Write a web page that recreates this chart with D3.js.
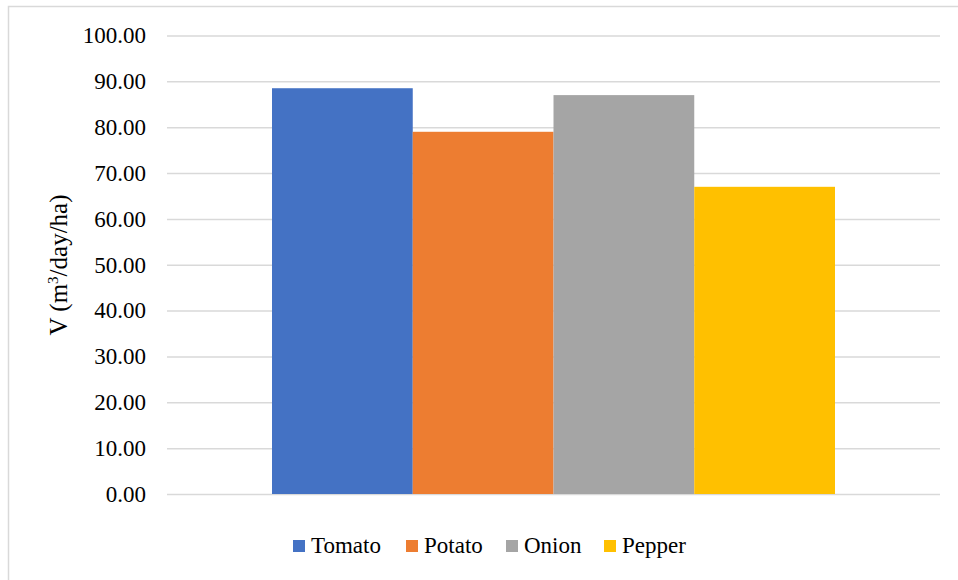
<!DOCTYPE html>
<html>
<head>
<meta charset="utf-8">
<script src="https://cdn.jsdelivr.net/npm/d3@7"></script>
<style>
  html, body { margin: 0; padding: 0; background: #fff; }
  svg { display: block; }
</style>
</head>
<body>
<svg id="chart" width="958" height="580"></svg>
<script>
// Daily water volume per crop
const categories = ["Tomato", "Potato", "Onion", "Pepper"];
const values = [88.5, 79.0, 87.0, 67.0];
const colors = ["#4472C4", "#ED7D31", "#A5A5A5", "#FFC000"];
const yTicks = [0, 10, 20, 30, 40, 50, 60, 70, 80, 90, 100];

const FONT = '"Liberation Serif", "Times New Roman", serif';
const svg = d3.select("#chart");
const W = 958, H = 580;
const plot = { left: 167, right: 940, top: 35.5, bottom: 494 };

// Chart frame
svg.append("rect")
  .attr("x", 8.5).attr("y", 6.5)
  .attr("width", W + 10).attr("height", H + 10)
  .attr("fill", "#fff").attr("stroke", "#d9d9d9").attr("stroke-width", 1.5);

const y = d3.scaleLinear().domain([0, 100]).range([plot.bottom, plot.top]);

// One category, four series side by side
const outer = d3.scaleBand().domain(["all"]).range([plot.left, plot.right]).paddingInner(0).paddingOuter(0.1865);
const inner = d3.scaleBand().domain(categories).range([outer("all"), outer("all") + outer.bandwidth()]).padding(0);

// Gridlines and value labels
const yAxis = d3.axisLeft(y).tickValues(yTicks)
  .tickSize(-(plot.right - plot.left)).tickPadding(21)
  .tickFormat(d3.format(".2f"));

const gAxis = svg.append("g").attr("transform", `translate(${plot.left},0)`).call(yAxis);
gAxis.attr("font-family", null).attr("font-size", null);
gAxis.select(".domain").remove();
gAxis.selectAll(".tick line").attr("stroke", "#d9d9d9").attr("stroke-width", 1.5);
gAxis.selectAll(".tick text")
  .attr("fill", "#000")
  .style("font-family", FONT).style("font-size", "23px");

// Bars
svg.append("g").selectAll("rect")
  .data(categories.map((c, i) => ({ c, v: values[i], col: colors[i] })))
  .join("rect")
  .attr("x", d => inner(d.c))
  .attr("width", inner.bandwidth())
  .attr("y", d => y(d.v))
  .attr("height", d => y(0) - y(d.v))
  .attr("fill", d => d.col);

// Y axis title
const title = svg.append("text")
  .attr("transform", `translate(67,265) rotate(-90)`)
  .attr("text-anchor", "middle")
  .style("font-family", FONT).style("font-size", "25px")
  .attr("fill", "#000");
title.append("tspan").text("V (m");
title.append("tspan").style("font-size", "15px").attr("dy", "-9").text("3");
title.append("tspan").attr("dy", "9").text("/day/ha)");

// Legend
const legendX = [293, 406, 506, 604];
const legend = svg.append("g").selectAll("g")
  .data(categories)
  .join("g")
  .attr("transform", (d, i) => `translate(${legendX[i]},0)`);
legend.append("rect")
  .attr("x", 0).attr("y", 540).attr("width", 12).attr("height", 12)
  .attr("fill", (d, i) => colors[i]);
legend.append("text")
  .attr("x", 18).attr("y", 553)
  .style("font-family", FONT).style("font-size", "23px")
  .attr("fill", "#000")
  .text(d => d);
</script>
</body>
</html>
